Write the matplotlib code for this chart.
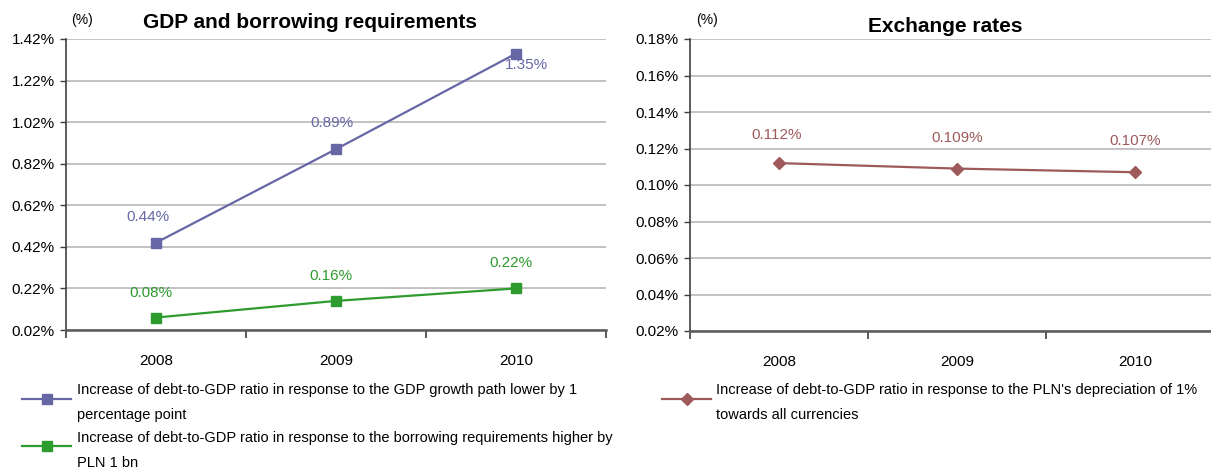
import numpy as np
import matplotlib
matplotlib.use("Agg")
import matplotlib.pyplot as plt
from matplotlib.ticker import FixedLocator

plt.rcParams['font.family'] = ['Liberation Sans', 'DejaVu Sans']

# data
years = ['2008', '2009', '2010']
gdp_path = [0.44, 0.89, 1.35]
borrowing = [0.08, 0.16, 0.22]
fx_depr = [0.112, 0.109, 0.107]

gdp_label = 'Increase of debt-to-GDP ratio in response to the GDP growth path lower by 1\npercentage point'
borr_label = 'Increase of debt-to-GDP ratio in response to the borrowing requirements higher by\nPLN 1 bn'
fx_label = "Increase of debt-to-GDP ratio in response to the PLN's depreciation of 1%\ntowards all currencies"

left_ticks = [0.02, 0.22, 0.42, 0.62, 0.82, 1.02, 1.22, 1.42]
right_ticks = [0.02, 0.04, 0.06, 0.08, 0.10, 0.12, 0.14, 0.16, 0.18]

c_gdp = '#6767A6'
c_borr = '#2E9B2E'
c_fx = '#9E5A5A'
grid_c = '#BDBDBD'
axis_c = '#404040'

W, H = 1211, 468
fig = plt.figure(figsize=(W / 100, H / 100), dpi=100)


def px_box(x0, y0, x1, y1):
    return [x0 / W, 1 - y1 / H, (x1 - x0) / W, (y1 - y0) / H]


def style_axes(ax, yticks, fmt):
    x = np.arange(len(years))
    ax.set_xlim(-0.5, len(years) - 0.5)
    ax.set_ylim(yticks[0], yticks[-1])
    ax.set_yticks(yticks)
    ax.set_yticklabels([fmt.format(t) for t in yticks], fontsize=11)
    ax.set_xticks(x)
    ax.set_xticklabels(years, fontsize=11)
    ax.xaxis.set_minor_locator(FixedLocator(np.arange(-0.5, len(years), 1.0)))
    ax.tick_params(axis='x', which='major', length=0, pad=17)
    ax.tick_params(axis='x', which='minor', length=6, direction='out', color=axis_c, width=1.2)
    ax.tick_params(axis='y', length=4, direction='out', color=axis_c, width=1, pad=4)
    for s in ['top', 'right']:
        ax.spines[s].set_visible(False)
    ax.spines['left'].set_color(axis_c)
    ax.spines['left'].set_linewidth(1.2)
    ax.spines['bottom'].set_color('#5a5a5a')
    ax.spines['bottom'].set_linewidth(1.8)
    ax.grid(axis='y', color=grid_c, linewidth=1.3)
    ax.set_axisbelow(True)
    return x


# left panel: GDP and borrowing requirements
ax1 = fig.add_axes(px_box(66, 39, 606, 330))
x = style_axes(ax1, left_ticks, '{:.2f}%')
ax1.plot(x, gdp_path, color=c_gdp, marker='s', markersize=6.5, linewidth=1.6, label=gdp_label, clip_on=False)
ax1.plot(x, borrowing, color=c_borr, marker='s', markersize=6.5, linewidth=1.6, label=borr_label, clip_on=False)

gdp_offsets = [(-8, 26), (-4, 26), (10, -11)]
for xi, v, off in zip(x, gdp_path, gdp_offsets):
    ax1.annotate(f'{v:.2f}%', (xi, v), xytext=off, textcoords='offset pixels',
                 ha='center', va='center', color=c_gdp, fontsize=11)
for xi, v in zip(x, borrowing):
    ax1.annotate(f'{v:.2f}%', (xi, v), xytext=(-5, 25), textcoords='offset pixels',
                 ha='center', va='center', color=c_borr, fontsize=11)

fig.text(310 / W, 1 - 22 / H, 'GDP and borrowing requirements', ha='center', va='center',
         fontsize=15, fontweight='bold')
fig.text(82 / W, 1 - 20 / H, '(%)', ha='center', va='center', fontsize=10)

leg1 = ax1.legend(loc='upper left', bbox_to_anchor=(16 / W, 1 - 377 / H),
                  bbox_transform=fig.transFigure, frameon=False, fontsize=10.5,
                  handlelength=3.4, handleheight=2.6, handletextpad=0.4,
                  labelspacing=0.6, borderaxespad=0)
for t in leg1.get_texts():
    t.set_linespacing(2.0)

# right panel: exchange rates
ax2 = fig.add_axes(px_box(690, 39, 1224, 331))
x = style_axes(ax2, right_ticks, '{:.2f}%')
ax2.plot(x, fx_depr, color=c_fx, marker='D', markersize=6.5, linewidth=1.6, label=fx_label)
fx_offsets = [(-2, 28), (0, 31), (0, 31)]
for xi, v, off in zip(x, fx_depr, fx_offsets):
    ax2.annotate(f'{v:.3f}%', (xi, v), xytext=off, textcoords='offset pixels',
                 ha='center', va='center', color=c_fx, fontsize=11)

fig.text(945 / W, 1 - 26 / H, 'Exchange rates', ha='center', va='center',
         fontsize=15, fontweight='bold')
fig.text(707 / W, 1 - 20 / H, '(%)', ha='center', va='center', fontsize=10)

leg2 = ax2.legend(loc='upper left', bbox_to_anchor=(656 / W, 1 - 377 / H),
                  bbox_transform=fig.transFigure, frameon=False, fontsize=10.5,
                  handlelength=3.4, handleheight=2.6, handletextpad=0.3, borderaxespad=0)
for t in leg2.get_texts():
    t.set_linespacing(2.0)

fig.savefig('out.png', dpi=100, facecolor='white')
